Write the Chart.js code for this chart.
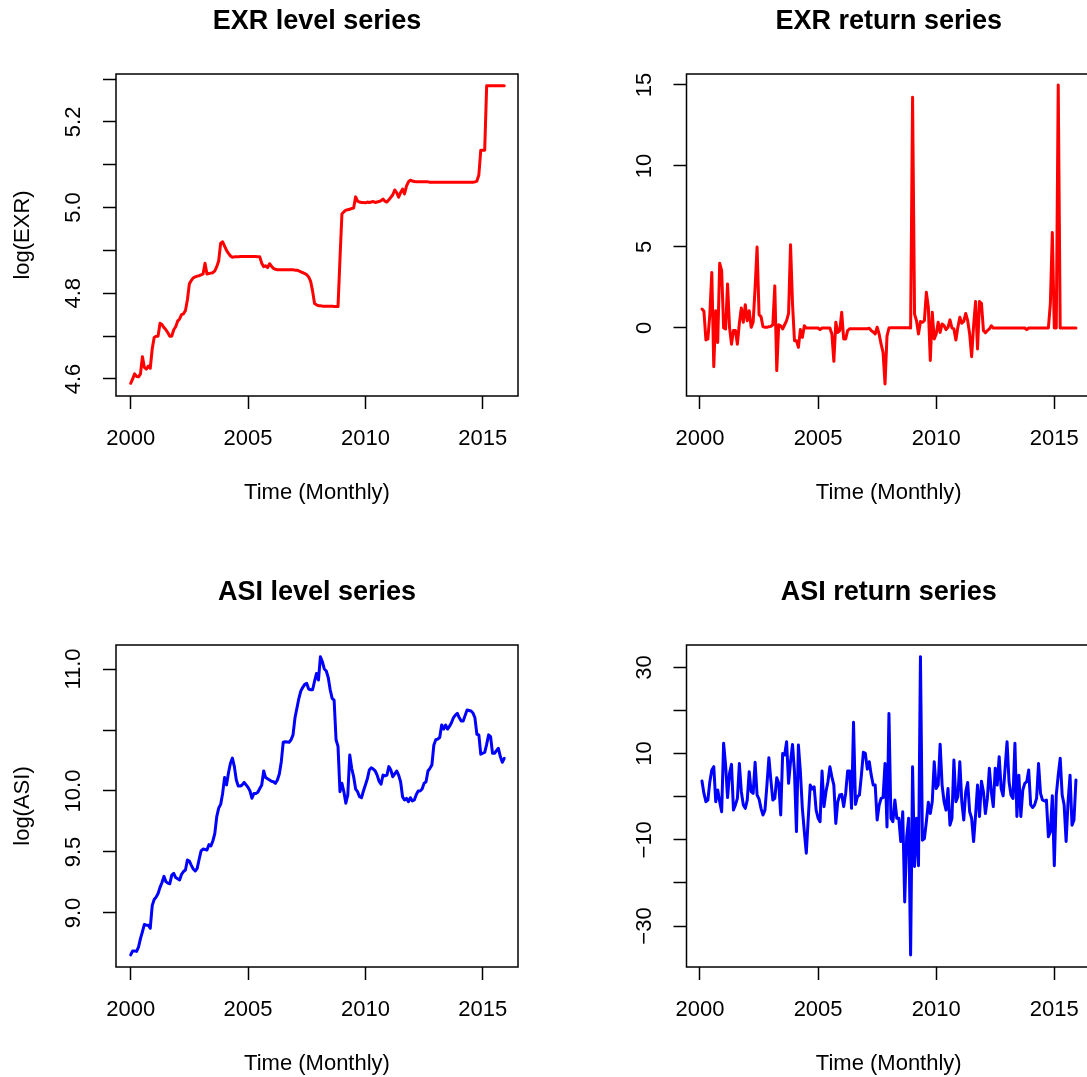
<!DOCTYPE html>
<html><head><meta charset="utf-8">
<script src="https://cdn.jsdelivr.net/npm/chart.js@4.4.1/dist/chart.umd.min.js"></script>
<style>
html,body{margin:0;padding:0;background:#fff;overflow:hidden;width:1087px;height:1077px;position:relative;}
canvas{position:absolute;}
</style></head><body>
<canvas id="c1" width="543" height="506" style="left:0px;top:0px"></canvas>
<canvas id="c2" width="545" height="506" style="left:571px;top:0px"></canvas>
<canvas id="c3" width="543" height="506" style="left:0px;top:571px"></canvas>
<canvas id="c4" width="545" height="506" style="left:571px;top:571px"></canvas>
<script>
// ---- data (monthly, levels start Jan 2000, returns start Feb 2000) ----
const startYear = 2000;
const xTicks = [2000, 2005, 2010, 2015];
const xTickLabels = ['2000', '2005', '2010', '2015'];

const exrLevel = [
 4.590,4.600,4.612,4.606,4.605,4.612,4.652,4.627,4.623,4.630,
 4.625,4.670,4.697,4.700,4.700,4.730,4.727,4.720,4.715,4.708,
 4.700,4.700,4.715,4.722,4.735,4.740,4.750,4.752,4.760,4.785,
 4.822,4.830,4.836,4.838,4.840,4.841,4.843,4.845,4.870,4.845,
 4.846,4.847,4.848,4.852,4.862,4.876,4.917,4.920,4.910,4.900,
 4.893,4.887,4.884,4.885,4.885,4.885,4.886,4.886,4.886,4.886,
 4.886,4.886,4.886,4.886,4.886,4.885,4.885,4.870,4.862,4.864,
 4.860,4.869,4.863,4.858,4.856,4.855,4.855,4.855,4.855,4.855,
 4.855,4.855,4.855,4.855,4.854,4.854,4.852,4.850,4.848,4.846,
 4.843,4.838,4.828,4.805,4.776,4.773,4.771,4.771,4.770,4.770,
 4.770,4.770,4.770,4.770,4.769,4.769,4.769,4.880,4.985,4.990,
 4.994,4.995,4.996,4.998,4.999,5.025,5.015,5.013,5.012,5.012,
 5.011,5.013,5.012,5.013,5.014,5.012,5.013,5.014,5.016,5.020,
 5.015,5.013,5.018,5.024,5.030,5.041,5.035,5.024,5.035,5.043,
 5.032,5.050,5.060,5.064,5.062,5.061,5.060,5.060,5.060,5.060,
 5.060,5.060,5.060,5.059,5.059,5.059,5.059,5.059,5.059,5.059,
 5.059,5.059,5.059,5.059,5.059,5.059,5.059,5.059,5.059,5.059,
 5.059,5.059,5.059,5.059,5.059,5.059,5.060,5.062,5.076,5.134,
 5.134,5.134,5.284,5.284,5.284,5.284,5.284,5.284,5.284,5.284,
 5.284,5.284
];

const exrReturn = [
 1.17,1.03,-0.74,-0.68,0.86,3.43,-2.39,1.07,-0.90,4.00,
 3.54,0.00,-0.06,2.72,0.04,-1.00,-0.16,-0.16,-1.00,0.30,
 1.23,0.35,1.44,0.45,1.07,0.04,0.35,2.50,5.00,0.82,
 0.70,0.08,0.04,0.04,0.08,0.10,0.20,2.60,-2.63,0.20,
 0.14,-0.06,0.20,0.45,0.90,5.14,1.50,-0.78,-0.78,-1.20,
 -0.10,-0.58,0.14,0.00,0.00,0.00,0.00,0.00,0.00,0.00,
 -0.10,0.00,0.00,0.00,0.00,0.00,-0.37,-2.06,0.35,-0.27,
 -0.16,0.97,-0.68,-0.68,-0.16,-0.05,-0.05,-0.05,-0.05,-0.05,
 -0.05,-0.05,-0.05,-0.05,-0.05,-0.02,-0.16,-0.25,-0.37,0.05,
 -0.37,-1.00,-1.50,-3.45,-0.50,0.00,0.02,0.02,0.02,0.02,
 0.02,0.02,0.02,0.02,0.02,0.02,0.00,14.24,0.86,0.45,
 -0.37,0.40,0.35,0.45,2.20,1.28,-2.00,0.97,-0.68,-0.37,
 0.35,-0.27,0.25,0.14,-0.10,0.04,0.50,0.00,-0.06,-0.74,
 0.04,0.66,0.29,0.41,0.90,0.45,-0.37,-1.77,0.14,1.63,
 -1.30,1.63,1.52,-0.16,-0.30,-0.16,-0.06,0.14,0.00,0.00,
 0.00,0.00,0.00,0.00,0.00,0.00,0.00,0.00,0.00,0.00,
 0.00,0.00,0.00,0.00,0.00,-0.10,0.00,0.00,0.00,0.00,
 0.00,0.00,0.00,0.00,0.00,0.00,0.00,1.50,5.90,0.00,
 0.00,15.00,0.00,0.00,0.00,0.00,0.00,0.00,0.00,0.00,
 0.00
];

const asiLevel = [
 8.656,8.689,8.689,8.685,8.720,8.790,8.846,8.906,8.900,8.900,
 8.874,9.060,9.110,9.130,9.160,9.210,9.250,9.300,9.257,9.245,
 9.240,9.310,9.325,9.290,9.280,9.270,9.317,9.340,9.352,9.434,
 9.426,9.390,9.360,9.344,9.366,9.440,9.510,9.524,9.520,9.516,
 9.560,9.550,9.590,9.650,9.790,9.860,9.890,9.980,10.110,10.050,
 10.150,10.227,10.270,10.200,10.090,10.040,10.040,10.050,10.070,10.050,
 10.030,10.000,9.940,9.980,9.980,9.990,10.020,10.049,10.164,10.110,
 10.100,10.090,10.080,10.076,10.063,10.090,10.140,10.240,10.400,10.404,
 10.402,10.400,10.420,10.460,10.600,10.680,10.760,10.820,10.850,10.874,
 10.882,10.836,10.830,10.830,10.900,10.964,10.910,11.101,11.060,11.000,
 10.984,10.930,10.830,10.760,10.746,10.420,10.366,9.994,10.063,9.994,
 9.900,9.967,10.295,10.186,10.117,10.016,9.994,9.953,9.945,10.000,
 10.049,10.100,10.172,10.190,10.180,10.165,10.130,10.080,10.055,10.130,
 10.123,10.130,10.200,10.172,10.117,10.140,10.164,10.130,10.076,9.953,
 9.926,9.940,9.912,9.945,9.918,9.926,9.970,10.000,10.000,10.016,
 10.063,10.076,10.164,10.186,10.213,10.377,10.420,10.426,10.438,10.541,
 10.508,10.541,10.508,10.530,10.560,10.600,10.623,10.637,10.600,10.574,
 10.574,10.620,10.664,10.660,10.656,10.640,10.600,10.465,10.460,10.301,
 10.310,10.317,10.383,10.460,10.446,10.309,10.309,10.330,10.350,10.282,
 10.236,10.268
];

const asiReturn = [
 3.64,0.77,-1.16,-0.77,3.50,6.20,6.97,-1.16,1.55,-1.16,
 -3.50,12.40,7.35,-0.20,5.40,7.50,-3.10,-1.90,-0.40,7.70,
 1.16,-1.90,-2.70,-0.77,5.80,1.16,0.77,7.97,0.40,-0.54,
 -2.70,-4.25,-3.10,2.70,9.06,3.87,-0.77,-0.40,4.40,3.10,
 -4.25,10.05,9.67,12.76,3.10,8.12,12.14,5.80,-8.10,11.99,
 5.80,-2.70,-8.10,-13.10,-5.00,2.70,1.78,2.30,-3.10,-5.00,
 -5.80,5.96,-2.30,1.16,3.48,6.97,4.60,2.70,-6.20,-1.16,
 0.40,0.54,-2.30,0.77,5.96,5.96,-2.70,17.25,-1.78,0.00,
 0.40,5.00,10.30,10.05,6.40,8.10,5.00,2.70,2.70,-5.40,
 -2.00,-0.40,-0.20,7.70,-7.00,19.30,-5.00,-5.80,-0.77,-5.00,
 -5.00,-10.40,-3.50,-24.40,-9.30,-5.00,-36.70,6.97,-16.20,-5.00,
 -16.00,32.50,-10.10,-9.70,-5.80,-1.30,-3.90,-1.16,8.10,1.90,
 2.70,12.20,2.70,-1.16,-3.10,1.90,-6.60,-5.00,8.50,-1.16,
 0.00,8.10,-1.16,-5.40,1.16,3.30,-3.50,-5.00,-10.40,-4.25,
 2.70,-4.60,3.60,1.16,-3.90,-0.40,6.60,1.16,-2.30,6.60,
 2.70,9.30,1.90,0.20,6.60,12.76,3.48,0.40,-0.40,12.40,
 -4.60,5.00,-4.60,1.55,3.10,3.48,6.20,-1.90,-2.50,-1.90,
 -0.40,7.70,0.77,-0.77,-1.00,-0.77,-9.30,-8.10,0.20,-16.00,
 0.40,5.00,8.90,0.40,-1.90,-10.40,-1.16,5.00,-6.60,-5.40,
 3.87
];

// tick values and labels
const exrLevelTicks = [4.6,4.7,4.8,4.9,5.0,5.1,5.2,5.3];
const exrLevelTickLabels = ['4.6','','4.8','','5.0','','5.2',''];
const exrReturnTicks = [0,5,10,15];
const exrReturnTickLabels = ['0','5','10','15'];
const asiLevelTicks = [9.0,9.5,10.0,10.5,11.0];
const asiLevelTickLabels = ['9.0','9.5','10.0','','11.0'];
const asiReturnTicks = [-30,-20,-10,0,10,20,30];
const asiReturnTickLabels = ['\u221230','','\u221210','','10','','30'];

// ---- drawing ----
const FONT = '"Liberation Sans", Arial, Helvetica, sans-serif';
Chart.defaults.font.family = FONT;
Chart.defaults.color = '#000';

const boxPlugin = {
  id: 'plotBox',
  afterDraw(chart) {
    const {ctx, chartArea: a} = chart;
    ctx.save();
    ctx.strokeStyle = '#000';
    ctx.lineWidth = 1.5;
    ctx.strokeRect(a.left, a.top, a.right - a.left, a.bottom - a.top);
    ctx.restore();
  }
};

function textWidth(labels, size) {
  const c = document.createElement('canvas').getContext('2d');
  c.font = size + 'px ' + FONT;
  return Math.max(...labels.map(l => c.measureText(l).width));
}

function makeChart(id, o) {
  const pts = o.values.map((v, i) => ({x: startYear + (o.startIndex + i) / 12, y: v}));
  const widest = textWidth(o.yLabels, 22);
  const tickGrid = {drawOnChartArea: false, drawTicks: true, tickLength: 13, tickWidth: 1.5, tickColor: '#000', color: '#000'};
  return new Chart(document.getElementById(id), {
    type: 'line',
    data: {datasets: [{data: pts, borderColor: o.color, borderWidth: 3, pointRadius: 0, tension: 0,
      borderJoinStyle: 'round', borderCapStyle: 'round', fill: false}]},
    options: {
      responsive: false, animation: false, devicePixelRatio: 1,
      layout: {padding: {left: 0, right: 25, top: 0, bottom: 0}},
      plugins: {
        legend: {display: false}, tooltip: {enabled: false},
        title: {display: true, text: o.title, fullSize: false, color: '#000',
          font: {size: 27, weight: 'bold', family: FONT}, padding: {top: 5, bottom: 36.6}}
      },
      scales: {
        x: {
          type: 'linear', min: o.xMin, max: o.xMax,
          afterBuildTicks: s => { s.ticks = xTicks.map(v => ({value: v})); },
          afterFit: s => { s.height = 110; },
          ticks: {autoSkip: false, minRotation: 0, maxRotation: 0, padding: 16.8, font: {size: 22}, color: '#000',
            callback: (v, i) => xTickLabels[i]},
          grid: tickGrid,
          border: {display: false},
          title: {display: true, text: 'Time (Monthly)', color: '#000', font: {size: 22}, padding: {top: 0, bottom: 0}}
        },
        y: {
          type: 'linear', min: o.yMin, max: o.yMax,
          afterBuildTicks: s => { s.ticks = o.yTicks.map(v => ({value: v})); },
          afterFit: s => { s.width = o.axisWidth; },
          ticks: {autoSkip: false, minRotation: 90, maxRotation: 90, crossAlign: 'center',
            padding: 42 - 13 - widest / 2, font: {size: 22}, color: '#000',
            callback: (v, i) => o.yLabels[i]},
          grid: tickGrid,
          border: {display: false},
          title: {display: !!o.yTitle, text: o.yTitle || '', color: '#000', font: {size: 22}, padding: {top: 10, bottom: 0}}
        }
      }
    },
    plugins: [boxPlugin]
  });
}

makeChart('c1', {values: exrLevel, startIndex: 0, color: '#FF0000', title: 'EXR level series', yTitle: 'log(EXR)',
  xMin: 1999.374, xMax: 2016.502, yMin: 4.5603, yMax: 5.3117, yTicks: exrLevelTicks, yLabels: exrLevelTickLabels, axisWidth: 116});
makeChart('c2', {values: exrReturn, startIndex: 1, color: '#FF0000', title: 'EXR return series', yTitle: '',
  xMin: 1999.4285, xMax: 2016.554, yMin: -4.198, yMax: 15.679, yTicks: exrReturnTicks, yLabels: exrReturnTickLabels, axisWidth: 115.5});
makeChart('c3', {values: asiLevel, startIndex: 0, color: '#0000FF', title: 'ASI level series', yTitle: 'log(ASI)',
  xMin: 1999.374, xMax: 2016.502, yMin: 8.557, yMax: 11.197, yTicks: asiLevelTicks, yLabels: asiLevelTickLabels, axisWidth: 116});
makeChart('c4', {values: asiReturn, startIndex: 1, color: '#0000FF', title: 'ASI return series', yTitle: '',
  xMin: 1999.4285, xMax: 2016.554, yMin: -39.51, yMax: 35.2, yTicks: asiReturnTicks, yLabels: asiReturnTickLabels, axisWidth: 115.5});
</script>
</body></html>
